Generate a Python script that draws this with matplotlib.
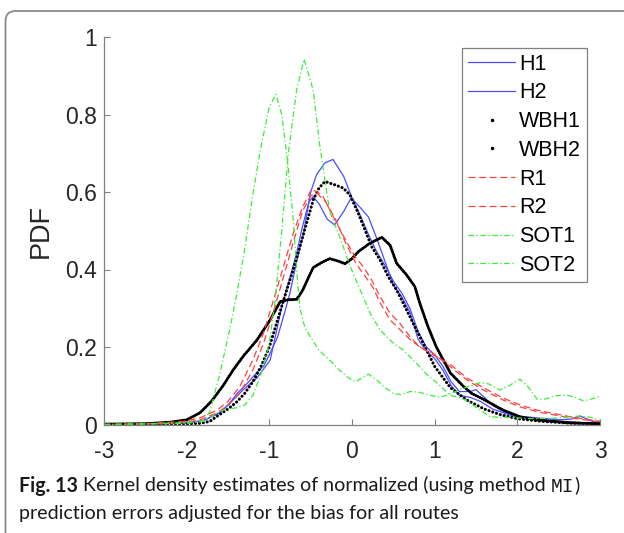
import numpy as np
import matplotlib.pyplot as plt
from matplotlib.lines import Line2D
from matplotlib.patches import FancyBboxPatch

# Kurven, x = normierter Fehler, y = PDF
xH1 = [-3, -2.5, -2, -1.8, -1.6, -1.5, -1.39, -1.25, -1.15, -1.07, -1.0, -0.9, -0.8, -0.75, -0.67, -0.59,
       -0.5, -0.43, -0.33, -0.23, -0.1, 0.0, 0.1, 0.2, 0.3, 0.4, 0.5, 0.6, 0.7, 0.8, 0.9, 1.0,
       1.1, 1.2, 1.3, 1.43, 1.5, 1.55, 1.7, 1.83, 2.0, 2.24, 2.5, 2.65, 2.76, 2.92, 3.0]
yH1 = [0, 0.001, 0.004, 0.01, 0.03, 0.05, 0.08, 0.11, 0.135, 0.15, 0.18, 0.226, 0.3, 0.34, 0.42, 0.49,
       0.6, 0.644, 0.675, 0.684, 0.64, 0.585, 0.54, 0.49, 0.445, 0.41, 0.37, 0.34, 0.30, 0.24, 0.2, 0.18,
       0.15, 0.11, 0.085, 0.085, 0.09, 0.08, 0.05, 0.033, 0.022, 0.017, 0.012, 0.014, 0.022, 0.007, 0.003]

xH2 = [-3, -2.5, -2, -1.8, -1.6, -1.5, -1.32, -1.15, -0.99, -0.84, -0.75, -0.67, -0.6, -0.52, -0.47, -0.4,
       -0.3, -0.21, -0.1, -0.01, 0.1, 0.2, 0.3, 0.4, 0.5, 0.6, 0.7, 0.8, 0.9, 1.0,
       1.1, 1.2, 1.3, 1.43, 1.55, 1.7, 1.9, 2.1, 2.4, 2.7, 3.0]
yH2 = [0, 0.001, 0.004, 0.01, 0.03, 0.05, 0.089, 0.12, 0.166, 0.313, 0.38, 0.442, 0.51, 0.575, 0.588, 0.57,
       0.53, 0.515, 0.55, 0.585, 0.56, 0.535, 0.48, 0.42, 0.36, 0.33, 0.29, 0.22, 0.19, 0.17,
       0.14, 0.1, 0.075, 0.07, 0.06, 0.04, 0.025, 0.015, 0.01, 0.006, 0.002]

xW1 = [-3, -2.5, -2.0, -1.84, -1.72, -1.64, -1.5, -1.39, -1.3, -1.2, -1.1, -1.0, -0.9, -0.8, -0.71, -0.63,
       -0.55, -0.47, -0.4, -0.327, -0.2, -0.105, -0.024, 0.076, 0.157, 0.238, 0.339, 0.44, 0.54, 0.62,
       0.74, 0.86, 1.0, 1.19, 1.39, 1.6, 1.8, 2.0, 2.3, 2.6, 3.0]
yW1 = [0, 0.001, 0.002, 0.003, 0.008, 0.02, 0.04, 0.059, 0.08, 0.11, 0.15, 0.2, 0.27, 0.34, 0.4, 0.459,
       0.519, 0.579, 0.61, 0.627, 0.618, 0.61, 0.592, 0.545, 0.502, 0.459, 0.425, 0.381, 0.347, 0.313,
       0.261, 0.21, 0.15, 0.095, 0.063, 0.04, 0.025, 0.015, 0.008, 0.004, 0.002]

xW2 = [-3, -2.5, -2.2, -2.0, -1.84, -1.7, -1.56, -1.44, -1.32, -1.15, -0.99, -0.87, -0.77, -0.67, -0.6,
       -0.54, -0.47, -0.35, -0.27, -0.17, -0.085, 0.0, 0.076, 0.218, 0.36, 0.46, 0.54, 0.66, 0.76, 0.82,
       0.92, 1.02, 1.19, 1.35, 1.45, 1.59, 1.83, 2.03, 2.24, 2.64, 3.0]
yW2 = [0.001, 0.002, 0.006, 0.012, 0.03, 0.06, 0.1, 0.14, 0.175, 0.218, 0.27, 0.317, 0.322, 0.323, 0.345,
       0.373, 0.405, 0.42, 0.428, 0.422, 0.415, 0.428, 0.446, 0.468, 0.483, 0.463, 0.416, 0.386, 0.356, 0.313,
       0.252, 0.2, 0.133, 0.098, 0.08, 0.065, 0.037, 0.02, 0.012, 0.004, 0.002]

xR1 = [-3, -2.5, -2.04, -1.84, -1.63, -1.5, -1.36, -1.2, -1.07, -0.95, -0.83, -0.71, -0.6, -0.49, -0.42,
       -0.35, -0.226, -0.1, 0.036, 0.137, 0.238, 0.34, 0.46, 0.58, 0.7, 0.82, 0.98, 1.19, 1.39, 1.59,
       1.83, 2.04, 2.24, 2.64, 3.0]
yR1 = [0, 0.002, 0.008, 0.017, 0.037, 0.06, 0.097, 0.166, 0.236, 0.321, 0.407, 0.494, 0.56, 0.607, 0.6,
       0.588, 0.536, 0.485, 0.433, 0.407, 0.373, 0.33, 0.287, 0.261, 0.227, 0.2, 0.184, 0.149, 0.115, 0.089,
       0.063, 0.045, 0.033, 0.017, 0.007]

xR2 = [-3, -2.5, -2.04, -1.84, -1.63, -1.5, -1.36, -1.2, -1.07, -0.95, -0.83, -0.71, -0.6, -0.5, -0.42,
       -0.32, -0.2, -0.08, 0.05, 0.15, 0.25, 0.35, 0.46, 0.58, 0.7, 0.82, 0.98, 1.19, 1.39, 1.59,
       1.83, 2.04, 2.24, 2.64, 3.0]
yR2 = [0, 0.001, 0.005, 0.012, 0.03, 0.05, 0.08, 0.14, 0.21, 0.29, 0.38, 0.47, 0.55, 0.59, 0.596,
       0.575, 0.53, 0.47, 0.415, 0.385, 0.355, 0.31, 0.27, 0.245, 0.22, 0.2, 0.18, 0.155, 0.12, 0.095,
       0.068, 0.05, 0.037, 0.02, 0.008]

xS1 = [-3, -2.5, -2.0, -1.8, -1.72, -1.6, -1.48, -1.4, -1.3, -1.21, -1.11, -1.0, -0.92, -0.85, -0.78,
       -0.71, -0.67, -0.63, -0.57, -0.5, -0.4, -0.27, -0.15, -0.06, 0.04, 0.12, 0.2, 0.3, 0.4, 0.5,
       0.6, 0.7, 0.8, 0.9, 1.03, 1.1, 1.2, 1.3, 1.43, 1.55, 1.65, 1.79, 1.9, 2.03, 2.12, 2.24,
       2.35, 2.45, 2.6, 2.7, 2.8, 2.9, 3.0]
yS1 = [0, 0.001, 0.003, 0.008, 0.033, 0.13, 0.244, 0.33, 0.45, 0.579, 0.708, 0.82, 0.852, 0.8, 0.68,
       0.528, 0.4, 0.3, 0.25, 0.225, 0.192, 0.166, 0.14, 0.123, 0.11, 0.12, 0.13, 0.115, 0.095, 0.08,
       0.077, 0.085, 0.084, 0.078, 0.071, 0.072, 0.08, 0.09, 0.1, 0.108, 0.105, 0.089, 0.1, 0.117, 0.1, 0.065,
       0.066, 0.074, 0.076, 0.07, 0.061, 0.066, 0.073]

xS2 = [-3, -2.5, -2.0, -1.8, -1.7, -1.6, -1.5, -1.4, -1.3, -1.2, -1.1, -1.0, -0.93, -0.85, -0.77,
       -0.67, -0.58, -0.47, -0.39, -0.27, -0.15, -0.02, 0.1, 0.22, 0.34, 0.5, 0.62, 0.78, 0.9, 1.03,
       1.19, 1.3, 1.4, 1.5, 1.67, 1.9, 2.2, 2.5, 2.76, 2.9, 3.0]
yS2 = [0, 0.002, 0.005, 0.01, 0.02, 0.035, 0.04, 0.043, 0.05, 0.075, 0.13, 0.21, 0.32, 0.5, 0.7,
       0.863, 0.943, 0.863, 0.72, 0.55, 0.485, 0.407, 0.347, 0.287, 0.244, 0.21, 0.192, 0.158, 0.13, 0.107,
       0.075, 0.07, 0.06, 0.045, 0.02, 0.018, 0.015, 0.017, 0.022, 0.018, 0.01]

xticks = [-3, -2, -1, 0, 1, 2, 3]
yticks = [0, 0.2, 0.4, 0.6, 0.8, 1]

blau = '#4b4bff'
rot = '#ff4040'
gruen = '#3bec3b'

fig = plt.figure(figsize=(6.24, 5.33), dpi=100)
plt.rcParams['font.family'] = ['Liberation Sans', 'DejaVu Sans']
ax = fig.add_axes([104/624, 1-424.5/533, 496/624, 387.5/533])

ax.plot(xH1, yH1, color=blau, lw=0.9)
ax.plot(xH2, yH2, color=blau, lw=0.9)
ax.plot(xW1, yW1, color='k', lw=2.2, linestyle=(0, (0.05, 1.25)), dash_capstyle='round')
ax.plot(xW2, yW2, color='k', lw=2.2, linestyle=(0, (0.05, 0.7)), dash_capstyle='round')
ax.plot(xR1, yR1, color=rot, lw=0.9, dashes=(5.5, 3))
ax.plot(xR2, yR2, color=rot, lw=0.9, dashes=(5.5, 3))
ax.plot(xS1, yS1, color=gruen, lw=0.9, dashes=(4.5, 2, 1, 2))
ax.plot(xS2, yS2, color=gruen, lw=0.9, dashes=(4.5, 2, 1, 2))

ax.set_xlim(-3, 3)
ax.set_ylim(0, 1)
ax.set_xticks(xticks)
ax.set_xticklabels([str(t) for t in xticks])
ax.set_yticks(yticks)
ax.set_yticklabels(['0', '0.2', '0.4', '0.6', '0.8', '1'])
for s in ['top', 'right']:
    ax.spines[s].set_visible(False)
for s in ['left', 'bottom']:
    ax.spines[s].set_color('#808080')
    ax.spines[s].set_linewidth(0.9)
ax.tick_params(direction='in', length=4, width=0.8, color='#808080', labelsize=16.5,
               labelcolor='#262626')
ax.tick_params(axis='x', pad=11.5)
ax.tick_params(axis='y', pad=5)
ax.set_ylabel('PDF', fontsize=19.5, color='#262626', labelpad=8)

handles = [Line2D([], [], color=blau, lw=0.9),
           Line2D([], [], color=blau, lw=0.9),
           Line2D([], [], color='k', marker='.', ms=3, ls='none'),
           Line2D([], [], color='k', marker='.', ms=3, ls='none'),
           Line2D([], [], color=rot, lw=0.9, dashes=(5.5, 3)),
           Line2D([], [], color=rot, lw=0.9, dashes=(5.5, 3)),
           Line2D([], [], color=gruen, lw=0.9, dashes=(4.5, 2, 1, 2)),
           Line2D([], [], color=gruen, lw=0.9, dashes=(4.5, 2, 1, 2))]
labels = ['H1', 'H2', 'WBH1', 'WBH2', 'R1', 'R2', 'SOT1', 'SOT2']
leg = ax.legend(handles, labels, loc='upper right', bbox_to_anchor=(587/624, 1-47.6/533),
                bbox_transform=fig.transFigure, borderaxespad=0, fontsize=15.5,
                handlelength=2.15, handletextpad=0.2, labelspacing=0.36, borderpad=0.28,
                fancybox=False, framealpha=1, edgecolor='#808080')
leg.get_frame().set_linewidth(0.9)

# Rahmen
rahmen = FancyBboxPatch((5.5, -30), 660, 533-11-(-30), boxstyle='round,pad=0,rounding_size=10',
                        transform=None, fill=False, edgecolor='#8a8a8a', lw=1.3, clip_on=False)
fig.patches.append(rahmen)

# Bildunterschrift
r = fig.canvas.get_renderer()
teile = [('Fig. 13', dict(family='Lato', weight='bold')),
         (' Kernel density estimates of normalized (using method ', dict(family='Lato')),
         ('MI', dict(family='Liberation Mono')),
         (')', dict(family='Lato'))]
x = 19
for txt, kw in teile:
    t = fig.text(x/624, 1-491.5/533, txt, fontsize=14.1, color='#1a1a1a', **kw)
    x += t.get_window_extent(r).width
fig.text(19/624, 1-518.7/533, 'prediction errors adjusted for the bias for all routes',
         fontsize=14.1, color='#1a1a1a', family='Lato')

plt.savefig('out.png', dpi=100)
